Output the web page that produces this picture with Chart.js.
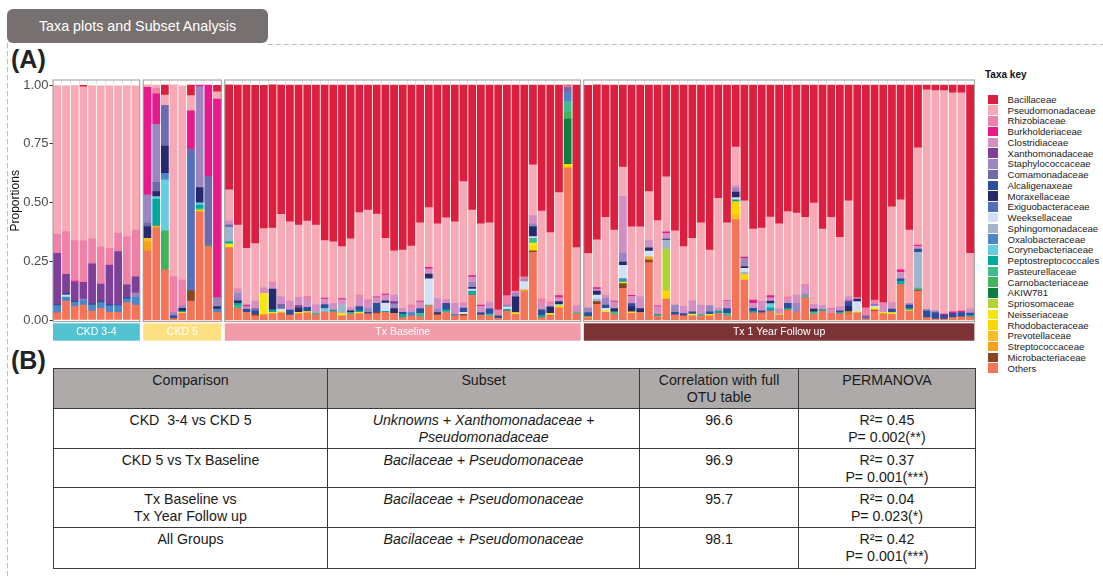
<!DOCTYPE html>
<html>
<head>
<meta charset="utf-8">
<script src="https://cdn.jsdelivr.net/npm/chart.js@4.4.1/dist/chart.umd.min.js"></script>
<style>
  html, body { margin: 0; padding: 0; background: #fff; }
  body { width: 1103px; height: 579px; position: relative; overflow: hidden;
         font-family: "Liberation Sans", Arial, Helvetica, sans-serif; color: #1a1a1a; }
  .tab { position: absolute; left: 7px; top: 9px; width: 261px; height: 34px; background: #767170;
         border-radius: 6px; color: #fff; font-size: 14.3px; display: flex; align-items: center; justify-content: center; }
  .plabel { position: absolute; left: 11px; font-weight: bold; font-size: 25px; line-height: 30px; color: #222; }
  canvas { position: absolute; }
  #legend { position: absolute; left: 0; top: 0; }
  .ktitle { position: absolute; left: 985px; top: 68px; font-size: 10px; font-weight: bold; line-height: 14px; color: #111; white-space: nowrap; }
  .kbox { position: absolute; left: 988px; width: 9.5px; height: 9.5px; }
  .ktext { position: absolute; left: 1007.5px; font-size: 9.6px; line-height: 11px; color: #222; white-space: nowrap; }
  table.sub { position: absolute; left: 53px; top: 368px; width: 922px; border-collapse: collapse; table-layout: fixed;
              font-size: 14.2px; line-height: 17.3px; color: #1a1a1a; }
  table.sub td, table.sub th { border: 1px solid #3a3a3a; padding: 2.5px 4px 0; vertical-align: top; text-align: center;
              font-weight: normal; }
  table.sub th { background: #aeaaa9; }
  table.sub td.it { font-style: italic; }
</style>
</head>
<body>
<div class="tab">Taxa plots and Subset Analysis</div>
<svg width="1103" height="579" style="position:absolute;left:0;top:0">
  <line x1="268" y1="44.5" x2="1103" y2="44.5" stroke="#bdbdbd" stroke-width="1" stroke-dasharray="5.3 2.7"/>
  <line x1="7.5" y1="43" x2="7.5" y2="579" stroke="#bdbdbd" stroke-width="1" stroke-dasharray="5.3 2.7"/>
</svg>
<div class="plabel" style="top:43.5px">(A)</div>
<div class="plabel" style="top:344.5px">(B)</div>
<div id="charts"></div>
<div id="legend"></div>

<table class="sub">
  <colgroup><col style="width:274px"><col style="width:312px"><col style="width:159px"><col style="width:177px"></colgroup>
  <tr style="height:40px"><th>Comparison</th><th>Subset</th><th>Correlation with full<br>OTU table</th><th>PERMANOVA</th></tr>
  <tr style="height:40px"><td>CKD&nbsp; 3-4 vs CKD 5</td><td class="it">Unknowns + Xanthomonadaceae +<br>Pseudomonadaceae</td><td>96.6</td><td>R²= 0.45<br>P= 0.002(**)</td></tr>
  <tr style="height:39px"><td>CKD 5 vs Tx Baseline</td><td class="it">Bacilaceae + Pseudomonaceae</td><td>96.9</td><td>R²= 0.37<br>P= 0.001(***)</td></tr>
  <tr style="height:40px"><td>Tx Baseline vs<br>Tx Year Follow up</td><td class="it">Bacilaceae + Pseudomonaceae</td><td>95.7</td><td>R²= 0.04<br>P= 0.023(*)</td></tr>
  <tr style="height:41px"><td>All Groups</td><td class="it">Bacilaceae + Pseudomonaceae</td><td>98.1</td><td>R²= 0.42<br>P= 0.001(***)</td></tr>
</table>

<script>
// ---- Taxa (legend order, top of stack first) ----
const taxa = ['Bacillaceae','Pseudomonadaceae','Rhizobiaceae','Burkholderiaceae','Clostridiaceae',
  'Xanthomonadaceae','Staphylococcaceae','Comamonadaceae','Alcaligenaxeae','Moraxellaceae',
  'Exiguobacteraceae','Weeksellaceae','Sphingomonadaceae','Oxalobacteraceae','Corynebacteriaceae',
  'Peptostreptococcales','Pasteurellaceae','Carnobacteriaceae','AKIW781','Spriosomaceae',
  'Neisseriaceae','Rhodobacteraceae','Prevotellaceae','Streptococcaceae','Microbacteriaceae','Others'];
const taxaColors = ['#dc1f3f','#f7aab6','#ef80a8','#e8198b','#d58ec2',
  '#7e3f98','#9b86bf','#6e6aae','#2d4e9c','#262a6c',
  '#5170b9','#cfe0f3','#a0b4cc','#4b86c6','#66cde0',
  '#00a99d','#3dbb8f','#41b35a','#0b7f3f','#b3d235',
  '#f5e614','#fed700','#fbbd22','#f7a21b','#8b4420','#f47458'];

// ---- Groups (facets) ----
const groups = ['CKD 3-4','CKD 5','Tx Baseline','Tx 1 Year Follow up'];
const groupSizes = [10, 9, 41, 45];
const stripColors = ['#52c2d0','#fde081','#f29ca9','#7c3335'];

// ---- Y axis ----
const yTickValues = [0, 0.25, 0.5, 0.75, 1];
const yTickLabels = ['0.00','0.25','0.50','0.75','1.00'];

// ---- Relative abundance per taxon; samples ordered CKD 3-4 | CKD 5 | Tx Baseline | Tx 1 Year ----
const bacillaceae = [
  0,0,0,.007,0,0,0,0,0,0,
  0,0,.043,0,0,.045,0,0,.028,
  .447,.596,.695,.674,.61,.61,.55,.582,.596,.579, .596,.662,.667,.688,.655,.543,.532,.549,.652,.706,
  .702,.685,.586,.522,.591,.565,.582,.411,.532,.591, .586,.957,.896,.877,.816,.34,.536,.628,.458,.004, .692,
  .716,.66,.563,.617,.349,.604,.604,.454,.577,.391, .621,.688,.652,.587,.702,.482,.587,.264,.493,.613,
  .609,.562,.591,.539,.545,.563,.502,.613,.563,.648, .493,.905,.948,.915,.926,.518,.489,.617,.267,.021, .024,.024,.033,.033,.716
];
const pseudomonadaceae = [
  .633,.621,.66,.655,.652,.687,.692,.627,.644,.614,
  .011,.014,.043,.816,.826,.065,0,0,.031,
  .132,.27,.241,.245,.252,.23,.35,.338,.308,.32, .338,.245,.263,.221,.292,.351,.382,.352,.238,.188,
  .248,.252,.334,.254,.318,.348,.347,.516,.279,.345, .338,0,0,0,0,.216,.374,.295,.438,0, .247,
  .231,.203,.331,.302,.125,.291,.296,.206,.363,.234, .315,.254,.266,.349,.237,.466,.33,.165,.239,.302,
  .312,.334,.36,.362,.349,.285,.431,.326,.389,.295, .407,0,0,0,0,.408,.298,.313,.414,.934, .937,.951,.932,.929,.235
];
const rhizobiaceae = [
  .081,.182,.172,.177,.106,.157,.071,.079,.204,.199,
  0,.024,0,.152,.111,0,0,0,0,
  0,.007,0,0,0,.009,0,0,0,.014, 0,0,0,0,0,.011,.01,0,0,0,
  0,.014,0,0,0,.009,0,.006,0,0, 0,.025,.039,.01,.01,0,.016,.011,0,.006, 0,
  0,0,0,0,0,0,0,0,0,0, 0,0,0,0,0,0,0,0,0,0,
  0,0,0,.014,0,.01,0,0,0,0, 0,.006,.034,.019,.015,0,0,0,0,0, 0,0,0,0,0
];
const burkholderiaceae = [
  0,0,.006,0,0,0,0,0,0,0,
  .457,.129,0,0,0,.162,.007,.39,.845,
  0,0,.007,0,0,0,0,0,0,0, 0,.004,0,.004,0,0,0,.004,.004,0,
  0,0,.003,.006,0,0,0,0,.006,.006, 0,0,0,0,0,0,0,0,.009,0, 0,
  0,.006,0,.004,0,.004,0,0,.003,.007, 0,0,0,0,0,0,.003,0,.006,.014,
  0,.01,0,0,0,0,0,0,.003,0, 0,0,0,0,0,0,.01,0,.006,0, 0,.004,.007,.006,0
];
const clostridiaceae = [
  0,0,0,0,0,0,0,0,0,0,
  0,0,0,0,0,0,0,0,0,
  .017,.014,.01,.031,.024,.02,.033,.038,.035,.033, .038,.023,.028,.021,.014,.038,.026,.024,.024,.028,
  .017,.017,.028,.023,.045,.007,.047,.016,.023,.026, .028,0,0,0,0,.035,.031,.01,.017,0, .028,
  0,.009,.014,.028,.241,.031,.05,.033,.033,.024, 0,.031,.047,.04,0,.014,.031,.01,0,.021,
  .04,.014,.024,.014,.035,.033,.021,.017,.017,.018, .018,0,0,0,.026,.028,.028,0,.011,0, 0,0,0,0,.02
];
const xanthomonadaceae = [
  .217,.081,.079,.071,.169,.072,.167,.226,.054,.068,
  0,0,0,0,0,0,0,0,0,
  0,0,0,0,0,0,0,0,.011,0, 0,0,0,0,0,0,0,0,0,.009,
  0,0,0,0,0,0,0,0,0,0, 0,0,0,0,0,0,0,0,0,0, 0,
  0,0,0,0,0,0,0,0,0,0, 0,0,0,0,0,0,0,0,0,0,
  0,0,0,0,0,0,0,0,0,0, .007,0,0,0,0,0,0,0,0,0, 0,0,0,0,0
];
const staphylococcaceae = [
  0,0,0,.004,0,0,0,0,0,.021,
  .121,.247,0,.014,.01,0,.43,0,.038,
  0,.028,0,0,0,0,0,0,0,0, 0,0,0,0,0,0,.017,0,0,.02,
  0,0,0,0,.014,0,0,0,.021,0, 0,0,.01,.014,.011,.011,0,0,0,0, 0,
  .02,0,.028,0,.038,0,0,0,0,0, .031,0,0,0,.026,0,0,.017,.035,0,
  0,0,0,0,.038,.007,0,0,0,0, 0,0,0,0,0,0,0,.007,0,.007, .007,0,0,0,0
];
const comamonadaceae = [
  0,0,0,0,0,0,0,0,0,0,
  .014,.04,.174,0,0,.021,0,.294,0,
  .011,.004,0,.011,0,0,.02,0,0,0, 0,0,0,0,0,0,0,0,0,0,
  0,0,0,0,0,0,0,0,0,0, 0,0,0,0,0,0,0,0,0,.026, 0,
  0,0,0,0,0,0,0,0,0,0, 0,0,0,0,0,0,0,0,0,0,
  0,0,0,0,0,0,0,0,0,0, 0,0,.014,.007,0,0,0,0,0,0, 0,0,0,0,0
];
const alcaligenaxeae = [
  .006,.007,.006,0,.006,.007,.007,.004,.006,0,
  0,0,0,.013,0,0,0,0,0,
  0,0,.014,.014,0,0,0,.021,0,.018, 0,.017,0,0,0,.018,.007,.038,0,0,
  .009,0,.021,0,0,.028,0,.018,0,.011, .023,.011,0,0,0,0,.024,0,0,0, 0,
  .018,0,.014,0,0,.014,.006,0,0,0, .011,.009,.01,0,.011,0,.021,0,0,.014,
  .009,0,0,.021,0,0,0,0,0,.006, .017,0,0,0,0,.014,.009,.014,.014,.028, .028,.017,.018,.018,.009
];
const moraxellaceae = [
  0,0,0,0,0,0,0,0,0,0,
  .05,.021,.116,0,.012,0,.064,0,.01,
  0,.01,0,0,0,.089,0,0,.017,0, 0,0,0,0,.007,0,0,0,.01,.021,
  0,0,0,.02,.007,0,0,0,.007,0, 0,0,0,.067,0,.043,0,.028,.011,0, 0,
  0,.017,0,.014,.014,.021,.011,.014,0,.004, 0,0,0,0,0,0,0,.023,.007,0,
  0,.01,0,0,0,0,.011,0,0,0, .023,.011,0,0,0,0,0,0,0,0, 0,0,0,0,0
];
const exiguobacteraceae = [
  0,0,0,0,0,0,0,0,0,0,
  0,0,0,0,0,.582,0,0,0,
  0,0,0,0,0,0,0,0,0,0, 0,0,0,0,0,0,0,0,0,0,
  0,0,0,0,0,0,0,0,0,0, 0,0,0,0,0,0,0,0,0,0, 0,
  0,0,0,0,0,0,0,0,0,0, 0,0,0,0,0,0,0,0,0,0,
  0,0,0,0,0,0,0,0,0,0, 0,0,0,0,0,0,0,0,0,0, 0,0,0,0,0
];
const weeksellaceae = [
  0,.008,0,0,0,0,0,0,0,0,
  0,0,0,0,0,0,0,0,0,
  0,0,0,0,0,0,.011,0,0,0, 0,0,0,0,0,0,0,0,.035,0,
  0,0,0,.111,0,0,0,.009,.009,0, 0,0,.01,0,.035,.007,0,0,0,0, 0,
  0,.017,.011,0,.057,0,0,.024,0,0, 0,0,0,0,0,0,0,.01,.017,0,
  0,0,0,0,0,0,0,0,0,0, 0,.043,0,.007,0,0,0,0,0,0, 0,0,0,0,0
];
const sphingomonadaceae = [
  0,0,0,0,0,0,0,0,0,0,
  0,0,0,0,0,0,0,0,0,
  .06,0,0,0,0,0,0,0,0,0, 0,0,0,.038,0,0,0,0,0,0,
  0,0,0,0,0,0,0,0,0,0, 0,0,0,0,0,0,0,0,0,0, 0,
  0,.011,0,0,0,0,0,0,0,.038, 0,0,0,0,0,0,0,0,.009,0,
  0,0,0,0,0,0,0,0,0,0, 0,0,0,0,0,0,0,0,.152,0, 0,0,0,0,0
];
const oxalobacteraceae = [
  .03,.017,.018,.021,.026,.024,.027,.028,.016,.031,
  0,0,.028,0,0,0,0,0,.014,
  0,0,0,0,0,0,0,0,0,0, 0,0,0,0,0,0,0,0,0,0,
  0,.014,0,0,0,0,.006,0,0,0, 0,0,0,0,0,0,0,0,0,.033, 0,
  0,0,0,0,.009,0,0,0,0,0, 0,0,0,0,0,0,0,0,0,0,
  0,0,0,0,0,0,0,0,0,0, 0,0,0,0,0,0,0,0,0,0, 0,0,0,0,0
];
const corynebacteriaceae = [
  0,0,0,0,0,0,0,0,0,0,
  0,.01,.217,0,0,0,.01,0,0,
  0,0,0,0,0,0,0,0,0,0, 0,.014,0,0,0,0,0,0,0,0,
  0,0,0,0,0,0,0,0,0,0, 0,0,0,0,0,0,0,0,.006,0, 0,
  0,0,0,0,0,0,0,0,0,0, 0,0,0,0,0,0,0,0,0,0,
  0,.018,0,0,0,0,0,0,0,0, 0,0,0,0,0,0,0,0,0,0, 0,0,0,0,0
];
const peptostreptococcales = [
  0,0,0,0,0,0,0,0,0,0,
  0,.115,0,0,.005,0,.014,0,0,
  .01,.01,0,0,0,.01,0,0,0,0, 0,0,.007,0,0,.006,0,0,.004,0,
  .014,0,0,0,0,.006,0,0,.017,0, 0,0,.007,0,0,0,.009,0,0,0, 0,
  0,0,0,0,.006,0,0,0,.006,0, 0,0,0,0,0,.01,0,.007,0,.006,
  0,.014,0,.007,0,0,0,.006,0,.006, 0,0,0,0,0,0,.014,.007,0,0, 0,0,0,0,.006
];
const pasteurellaceae = [
  0,0,0,0,0,0,0,0,0,0,
  0,0,0,0,0,0,.007,0,0,
  0,.011,0,0,0,0,0,0,0,0, .007,0,0,0,.008,0,0,0,0,0,
  0,0,.014,.004,0,.004,0,0,0,0, .008,0,0,0,0,.021,0,0,0,.045, .006,
  0,0,0,.011,0,0,0,0,0,0, 0,0,0,.006,0,0,.01,0,0,0,
  0,0,0,0,0,.007,.011,0,0,0, 0,0,0,0,0,0,0,0,.009,0, 0,0,0,0,0
];
const carnobacteriaceae = [
  0,0,0,0,0,0,0,0,0,0,
  0,0,.166,0,0,0,0,.004,0,
  0,0,0,0,0,0,0,0,0,0, 0,0,0,0,0,0,0,0,0,0,
  0,0,0,0,0,0,0,0,0,0, 0,0,0,0,0,0,0,0,0,.031, 0,
  0,0,0,0,0,0,0,0,0,0, 0,0,0,0,0,0,0,0,0,0,
  0,0,0,0,0,0,0,0,0,0, 0,0,0,0,0,0,0,0,0,0, 0,0,0,0,0
];
const akiw781 = [
  0,0,0,0,0,0,0,0,0,0,
  0,0,0,0,0,0,0,0,0,
  0,0,0,0,0,0,0,0,0,0, 0,0,0,0,0,0,0,0,0,0,
  0,0,0,0,0,0,0,0,0,0, 0,0,0,0,0,0,0,0,0,.193, 0,
  0,0,0,0,0,0,0,0,0,0, 0,0,0,0,0,0,0,0,0,0,
  0,0,0,0,0,0,0,0,0,0, 0,0,0,0,0,0,0,0,0,0, 0,0,0,0,0
];
const spriosomaceae = [
  0,0,0,0,0,0,0,0,0,0,
  0,0,0,0,0,0,0,0,0,
  0,0,0,0,0,0,0,0,0,0, 0,0,0,0,0,0,0,0,0,0,
  0,0,0,0,0,0,0,0,0,0, 0,0,0,0,0,0,0,0,0,0, 0,
  0,0,0,0,0,0,0,0,0,.179, 0,0,0,0,0,0,0,0,0,0,
  0,0,0,0,0,0,0,0,0,0, 0,0,0,0,0,0,0,0,0,0, 0,0,0,0,0
];
const neisseriaceae = [
  0,0,0,0,0,0,0,0,0,0,
  0,0,0,0,0,0,0,0,0,
  .016,0,0,0,.089,.006,.006,0,.006,.006, 0,0,0,.01,0,.006,0,0,0,0,
  0,0,0,0,0,0,0,0,0,0, 0,0,0,.008,0,.01,0,.007,0,0, 0,
  .004,0,.006,0,.006,.007,0,0,0,0, 0,0,.007,0,.006,0,0,0,0,0,
  0,0,.004,0,0,0,0,0,0,0, .004,.004,0,.01,.006,.008,0,.004,0,0, 0,0,0,0,0
];
const rhodobacteraceae = [
  0,0,0,0,0,0,0,0,0,0,
  0,0,0,0,.005,0,.007,0,0,
  0,0,0,0,0,0,0,0,0,0, 0,0,0,0,0,0,0,0,0,0,
  0,0,0,0,0,0,0,0,0,0, 0,0,0,0,0,.023,0,0,.007,.014, 0,
  0,0,0,0,0,0,0,0,0,.034, 0,0,0,0,0,0,0,.057,.024,0,
  0,0,0,0,0,0,0,0,0,0, 0,0,0,0,0,0,0,0,0,0, 0,0,0,0,0
];
const prevotellaceae = [
  0,0,0,0,0,0,0,0,0,0,
  .014,0,0,0,0,0,0,0,0,
  0,0,0,0,0,0,0,0,0,0, 0,0,0,0,0,0,0,0,0,0,
  0,0,0,0,0,0,0,0,0,0, 0,0,0,0,0,0,0,0,0,0, 0,
  0,0,0,0,0,0,0,0,0,0, 0,0,0,0,0,0,0,.021,0,0,
  0,0,0,0,0,0,0,0,0,0, 0,0,0,0,0,0,0,0,0,0, 0,0,0,0,0
];
const streptococcaceae = [
  0,0,0,0,0,0,0,0,0,0,
  .04,.01,0,0,0,0,0,0,0,
  0,0,0,0,.006,0,0,0,0,0, 0,0,0,0,0,0,0,0,0,0,
  0,0,0,0,0,0,0,0,0,0, 0,0,0,0,.007,0,0,0,.004,0, 0,
  0,0,0,0,0,0,0,.014,0,0, 0,0,0,0,0,0,0,0,0,0,
  0,0,0,0,0,0,0,0,0,0, 0,0,0,0,0,0,0,0,0,0, 0,0,0,0,0
];
const microbacteriaceae = [
  0,0,0,0,0,0,0,0,0,0,
  0,0,0,0,0,.044,0,0,0,
  0,0,0,.006,0,0,0,0,0,0, 0,0,0,0,0,0,0,.006,0,0,
  0,0,0,0,.004,0,0,.006,0,0, 0,0,0,0,0,.006,0,0,0,0, 0,
  0,.011,0,0,.02,0,0,.011,0,0, 0,0,0,0,0,0,0,0,0,0,
  0,0,0,0,0,0,0,0,0,0, .004,0,0,.004,0,0,0,0,.004,0, 0,0,0,0,0
];
const others = [
  .031,.081,.057,.064,.038,.05,.033,.033,.074,.064,
  .294,.39,.213,.006,.028,.081,.461,.312,.033,
  .308,.05,.033,.018,.018,.027,.03,.021,.027,.03, .021,.035,.035,.018,.024,.027,.026,.027,.033,.028,
  .01,.018,.014,.06,.021,.033,.018,.018,.106,.021, .017,.007,.038,.024,.121,.288,.01,.021,.05,.648, .027,
  .01,.067,.033,.024,.135,.028,.033,.244,.018,.089, .022,.018,.018,.018,.018,.028,.018,.426,.17,.03,
  .03,.038,.021,.043,.033,.095,.024,.038,.028,.027, .027,.031,.004,.038,.027,.024,.152,.038,.123,.01, .004,.004,.01,.014,.014
];

const taxaValues = [bacillaceae, pseudomonadaceae, rhizobiaceae, burkholderiaceae, clostridiaceae,
  xanthomonadaceae, staphylococcaceae, comamonadaceae, alcaligenaxeae, moraxellaceae,
  exiguobacteraceae, weeksellaceae, sphingomonadaceae, oxalobacteraceae, corynebacteriaceae,
  peptostreptococcales, pasteurellaceae, carnobacteriaceae, akiw781, spriosomaceae,
  neisseriaceae, rhodobacteraceae, prevotellaceae, streptococcaceae, microbacteriaceae, others];

// ---- Layout ----
const FONT = '"Liberation Sans", Arial, Helvetica, sans-serif';
Chart.defaults.font.family = FONT;
const BAR_W = 8.68;                         // width of one sample column
const PANEL_LEFT = [53, 143.2, 224.8, 583.8];
const CANVAS_TOP = 70, CANVAS_H = 275;
const AREA_TOP = 80, AREA_BOTTOM = 321.6;
const Y_MIN = -0.0068, Y_MAX = 1.0213;
const Y_AXIS_W = 53;

// Panel frame, white column separators and facet strip
const facetDecor = {
  id: 'facetDecor',
  afterDatasetsDraw(chart) {
    const {ctx, scales: {x, y}} = chart;
    const n = chart.data.labels.length;
    const top = y.getPixelForValue(1), bottom = y.getPixelForValue(0);
    ctx.save();
    ctx.fillStyle = '#ffffff';
    for (let i = 1; i < n; i++) {
      const xb = (x.getPixelForValue(i - 1) + x.getPixelForValue(i)) / 2;
      ctx.fillRect(xb - 0.45, top - 0.5, 0.9, bottom - top + 1);
    }
    ctx.restore();
  },
  afterDraw(chart, args, opts) {
    const {ctx, chartArea: a} = chart;
    ctx.save();
    ctx.strokeStyle = '#9c9c9c';
    ctx.lineWidth = 1;
    ctx.strokeRect(a.left, a.top, a.right - a.left, a.bottom - a.top);
    const y0 = a.bottom + 1.7, h = 17.4;
    ctx.fillStyle = opts.color;
    ctx.fillRect(a.left, y0, a.right - a.left, h);
    ctx.fillStyle = '#ffffff';
    ctx.font = '10.5px ' + FONT;
    ctx.textAlign = 'center';
    ctx.textBaseline = 'middle';
    ctx.fillText(opts.text, (a.left + a.right) / 2, y0 + h / 2 + 0.5);
    ctx.restore();
  }
};

const holder = document.getElementById('charts');
let start = 0;
groups.forEach((name, g) => {
  const n = groupSizes[g];
  const panelLeft = PANEL_LEFT[g];
  const panelRight = panelLeft + n * BAR_W;
  const canvasLeft = g === 0 ? 0 : Math.floor(panelLeft) - 1;
  const canvasW = Math.ceil(panelRight) + 1 - canvasLeft;
  const padLeft = g === 0 ? 0 : panelLeft - canvasLeft;
  const padRight = canvasLeft + canvasW - panelRight;

  const cv = document.createElement('canvas');
  cv.width = canvasW; cv.height = CANVAS_H;
  cv.style.left = canvasLeft + 'px'; cv.style.top = CANVAS_TOP + 'px';
  cv.style.width = canvasW + 'px'; cv.style.height = CANVAS_H + 'px';
  holder.appendChild(cv);

  const labels = [];
  for (let i = 0; i < n; i++) labels.push(name + ' #' + (i + 1));

  // stack from the bottom: Others first, Bacillaceae last
  const datasets = taxa.map((t, k) => ({
    label: t,
    data: taxaValues[k].slice(start, start + n).map(v => (v === 0 ? null : v)),
    backgroundColor: taxaColors[k],
    borderWidth: 0,
    barPercentage: 1,
    categoryPercentage: 1
  })).reverse();

  const yScale = g === 0 ? {
    stacked: true, min: Y_MIN, max: Y_MAX,
    afterBuildTicks: s => { s.ticks = yTickValues.map(v => ({ value: v })); },
    afterFit: s => { s.width = Y_AXIS_W; },
    ticks: { callback: (v, i) => yTickLabels[i], color: '#4d4d4d', font: { size: 13 }, padding: 1 },
    grid: { drawOnChartArea: false, tickLength: 3.5, tickColor: '#333', tickWidth: 1 },
    border: { display: false },
    title: { display: true, text: 'Proportions', color: '#111', font: { size: 12 }, padding: { top: 8, bottom: 0 } }
  } : { stacked: true, min: Y_MIN, max: Y_MAX, display: false };

  new Chart(cv, {
    type: 'bar',
    data: { labels, datasets },
    options: {
      responsive: false,
      animation: false,
      devicePixelRatio: 1,
      layout: { padding: { top: AREA_TOP - CANVAS_TOP, bottom: CANVAS_TOP + CANVAS_H - AREA_BOTTOM, left: padLeft, right: padRight } },
      plugins: {
        legend: { display: false },
        tooltip: { enabled: false },
        facetDecor: { color: stripColors[g], text: name }
      },
      scales: {
        x: {
          stacked: true, offset: true,
          ticks: { display: false },
          grid: { color: '#e6e6e6', lineWidth: 1, drawTicks: false, offset: true },
          border: { display: false },
          afterFit: s => { s.height = 0; }
        },
        y: yScale
      }
    },
    plugins: [facetDecor]
  });
  start += n;
});

// ---- Taxa key ----
const legend = document.getElementById('legend');
const kt = document.createElement('div');
kt.className = 'ktitle'; kt.textContent = 'Taxa key';
legend.appendChild(kt);
taxa.forEach((t, i) => {
  const top = 94.5 + i * 10.75;
  const b = document.createElement('div');
  b.className = 'kbox'; b.style.top = top + 'px'; b.style.background = taxaColors[i];
  const s = document.createElement('div');
  s.className = 'ktext'; s.style.top = (top - 0.75) + 'px'; s.textContent = t;
  legend.appendChild(b); legend.appendChild(s);
});
</script>
</body>
</html>
